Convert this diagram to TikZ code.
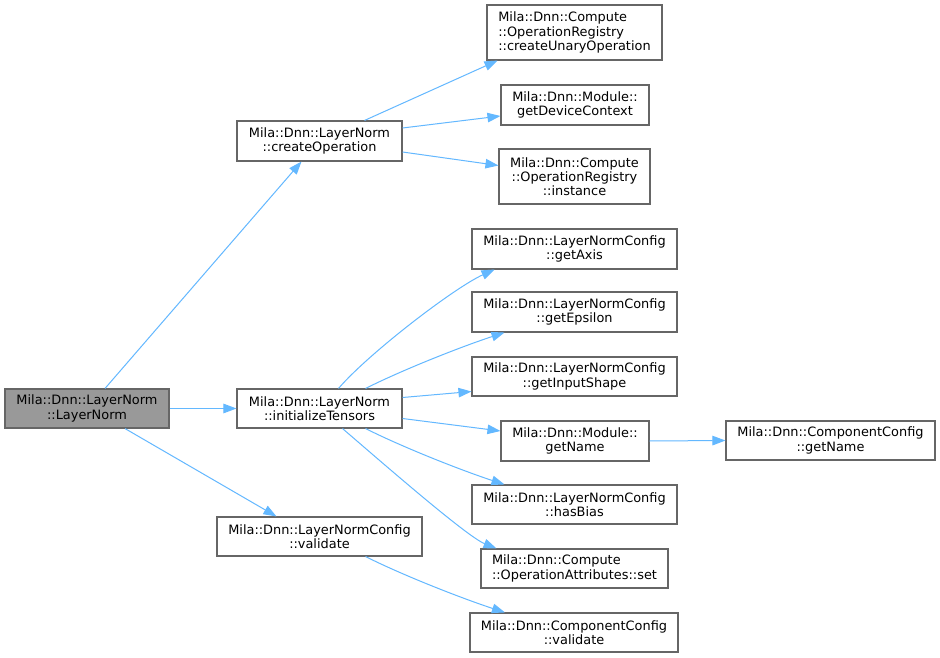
\documentclass[tikz,border=0pt]{standalone}
\usepackage{fontspec}
\setmainfont{DejaVu Sans}
\usetikzlibrary{arrows.meta}
\definecolor{edgeblue}{HTML}{63B8FF}
\definecolor{boxborder}{HTML}{666666}
\definecolor{rootfill}{HTML}{999999}
\tikzset{
  fn/.style={draw=boxborder, line width=1.1pt, fill=white, inner sep=0pt, align=center,
    font=\fontsize{12.9}{14.3}\selectfont, text=black},
  rootfn/.style={fn, fill=rootfill},
  edge/.style={draw=edgeblue, line width=1pt, -{Triangle[length=13pt,width=9.5pt]}},
}
\begin{document}
\begin{tikzpicture}[x=1pt,y=-1pt]
\useasboundingbox (0,0) rectangle (940,658);
\fill[white] (0,0) rectangle (940,658);

\node[rootfn, minimum width=164pt, minimum height=39pt] (root) at (87,408.5) {Mila::Dnn::LayerNorm\\::LayerNorm};
\node[fn, minimum width=165pt, minimum height=40pt] (createOp) at (319.5,141) {Mila::Dnn::LayerNorm\\::createOperation};
\node[fn, minimum width=165pt, minimum height=39pt] (initT) at (319.5,408.5) {Mila::Dnn::LayerNorm\\::initializeTensors};
\node[fn, minimum width=205pt, minimum height=39pt] (lnvalidate) at (319.5,536.5) {Mila::Dnn::LayerNormConfig\\::validate};

\node[fn, align=left, minimum width=175pt, minimum height=55pt] (unary) at (574.5,32.5) {Mila::Dnn::Compute\\::OperationRegistry\\::createUnaryOperation};
\node[fn, minimum width=148pt, minimum height=40pt] (devctx) at (575,105) {Mila::Dnn::Module::\\getDeviceContext};
\node[fn, minimum width=151pt, minimum height=55pt] (instance) at (574.5,176.5) {Mila::Dnn::Compute\\::OperationRegistry\\::instance};

\node[fn, minimum width=205pt, minimum height=40pt] (getAxis) at (574.5,249) {Mila::Dnn::LayerNormConfig\\::getAxis};
\node[fn, minimum width=205pt, minimum height=40pt] (getEps) at (574.5,312) {Mila::Dnn::LayerNormConfig\\::getEpsilon};
\node[fn, minimum width=205pt, minimum height=39pt] (getShape) at (574.5,376.5) {Mila::Dnn::LayerNormConfig\\::getInputShape};
\node[fn, minimum width=148pt, minimum height=40pt] (modName) at (575,441) {Mila::Dnn::Module::\\getName};
\node[fn, minimum width=209pt, minimum height=39pt] (ccName) at (830.5,440.5) {Mila::Dnn::ComponentConfig\\::getName};
\node[fn, minimum width=205pt, minimum height=39pt] (hasBias) at (574.5,504.5) {Mila::Dnn::LayerNormConfig\\::hasBias};
\node[fn, align=left, minimum width=187pt, minimum height=39pt] (attrSet) at (574.5,568.5) {Mila::Dnn::Compute\\::OperationAttributes::set};
\node[fn, minimum width=208pt, minimum height=39pt] (ccValidate) at (574,632.5) {Mila::Dnn::ComponentConfig\\::validate};

% edges
\draw[edge] ([xshift=18pt]root.north) -- ([xshift=-18pt]createOp.south);
\draw[edge] (root.east) -- (initT.west);
\draw[edge] ([xshift=38pt]root.south) -- ([xshift=-43pt]lnvalidate.north);

\draw[edge] ([xshift=45pt]createOp.north) -- ([xshift=-77pt]unary.south);
\draw[edge] ([yshift=13pt]createOp.east) -- ([yshift=-11pt]devctx.west);
\draw[edge] ([yshift=-11pt]createOp.east) -- ([yshift=11pt]instance.west);

\draw[edge] ([xshift=19pt]initT.north) .. controls +(30,-35) and +(-40,18) .. ([xshift=-80pt]getAxis.south);
\draw[edge] ([xshift=46pt]initT.north) .. controls +(40,-20) and +(-40,13) .. ([xshift=-70pt]getEps.south);
\draw[edge] ([yshift=11pt]initT.east) -- ([yshift=-15pt]getShape.west);
\draw[edge] ([yshift=-10pt]initT.east) -- ([yshift=10pt]modName.west);
\draw[edge] ([xshift=46pt]initT.south) .. controls +(40,20) and +(-40,-13) .. ([xshift=-70pt]hasBias.north);
\draw[edge] ([xshift=23pt]initT.south) .. controls +(35,30) and +(-30,-12) .. ([xshift=-78pt]attrSet.north);

\draw[edge] ([xshift=46pt]lnvalidate.south) .. controls +(40,20) and +(-40,-13) .. ([xshift=-69pt]ccValidate.north);
\draw[edge] (modName.east) -- (ccName.west);
\end{tikzpicture}
\end{document}
